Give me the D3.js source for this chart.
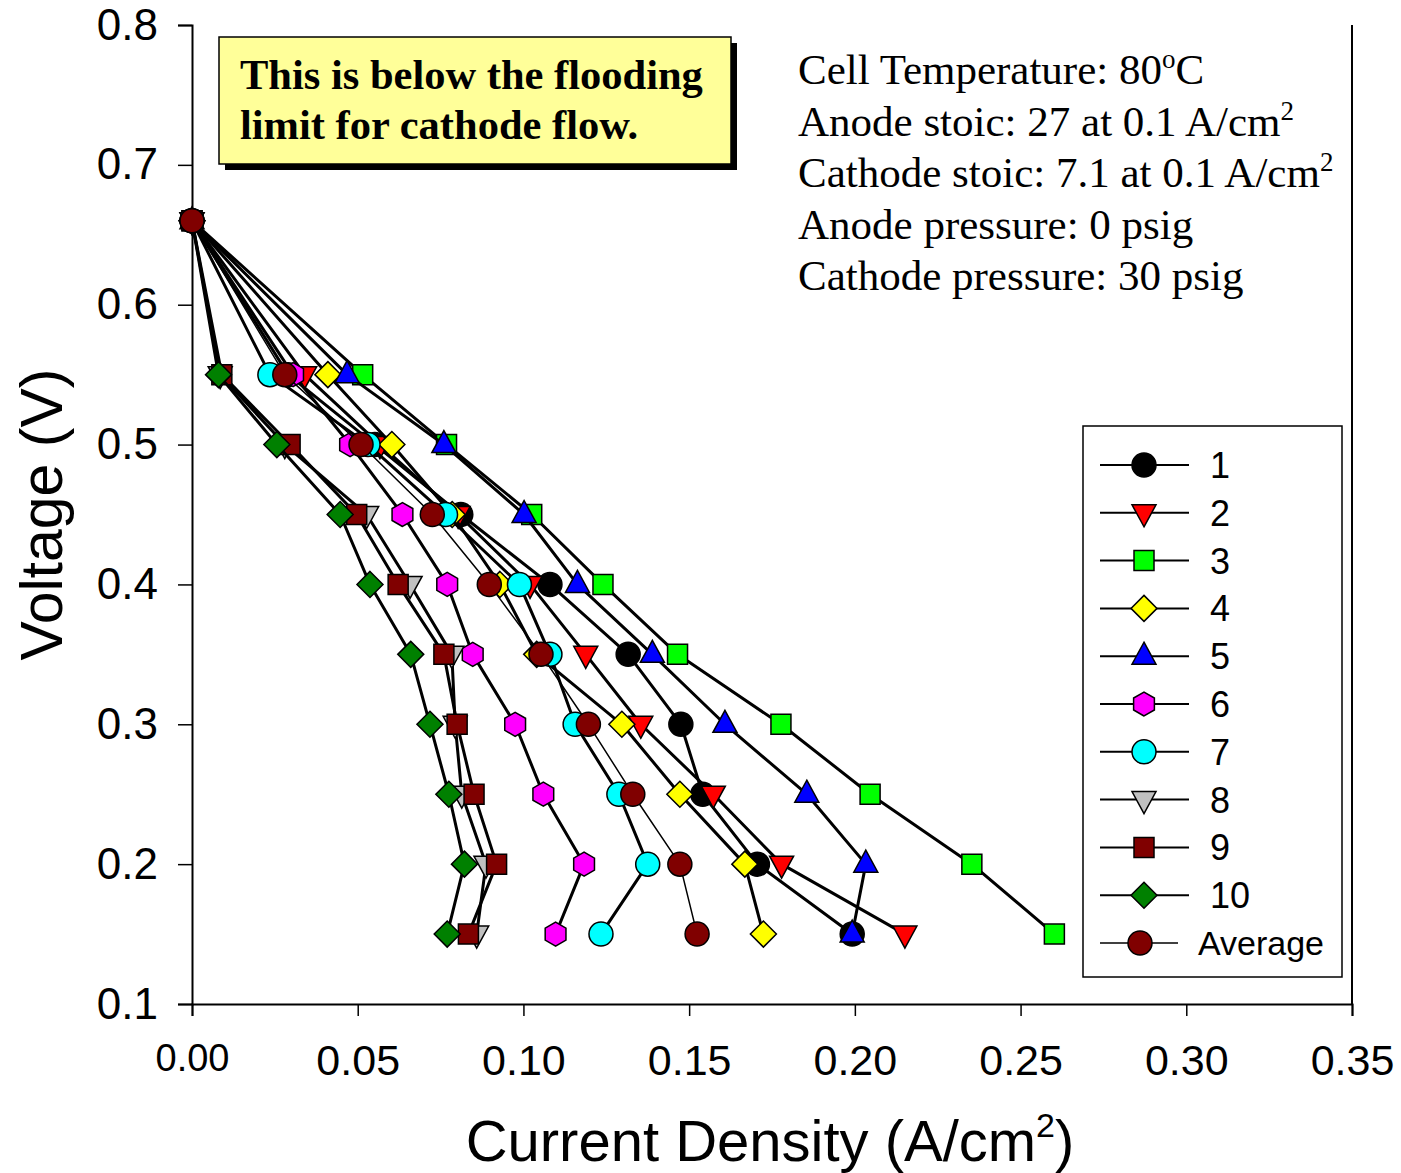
<!DOCTYPE html>
<html>
<head>
<meta charset="utf-8">
<script src="https://cdn.jsdelivr.net/npm/d3@7"></script>
<style>
  html, body { margin: 0; padding: 0; background: #fff; }
  svg { display: block; }
</style>
</head>
<body>
<div id="chart"></div>
<script>
// voltage steps shared by every run (V)
const voltage = [0.66, 0.55, 0.5, 0.45, 0.4, 0.35, 0.3, 0.25, 0.2, 0.15];

// current density per run (A/cm2)
const run1 = [0, 0.029, 0.0552, 0.0811, 0.108, 0.1316, 0.1475, 0.1541, 0.1706, 0.1992];
const run2 = [0, 0.034, 0.0567, 0.0803, 0.102, 0.1188, 0.1354, 0.1573, 0.1779, 0.2151];
const run3 = [0, 0.0515, 0.0768, 0.1025, 0.124, 0.1465, 0.1777, 0.2046, 0.2353, 0.2602];
const run4 = [0, 0.041, 0.0603, 0.0785, 0.0929, 0.104, 0.1297, 0.1472, 0.1668, 0.1724];
const run5 = [0, 0.0468, 0.076, 0.1002, 0.1163, 0.1389, 0.1608, 0.1855, 0.2033, 0.1992];
const run6 = [0, 0.0305, 0.0477, 0.0635, 0.077, 0.0847, 0.0975, 0.106, 0.1183, 0.1097];
const run7 = [0, 0.0235, 0.0531, 0.0765, 0.0988, 0.108, 0.1156, 0.1288, 0.1375, 0.1234];
const run8 = [0, 0.0085, 0.028, 0.0527, 0.0658, 0.0784, 0.0794, 0.0814, 0.0887, 0.0859];
const run9 = [0, 0.009, 0.0296, 0.0497, 0.0622, 0.076, 0.080, 0.0851, 0.0919, 0.0834];
const run10 = [0, 0.008, 0.0256, 0.0447, 0.0537, 0.066, 0.0718, 0.0775, 0.0822, 0.077];
const average = [0, 0.028, 0.051, 0.0725, 0.0897, 0.1053, 0.1196, 0.133, 0.1472, 0.1524];

const xTicks = [0, 0.05, 0.1, 0.15, 0.2, 0.25, 0.3, 0.35];
const yTicks = [0.1, 0.2, 0.3, 0.4, 0.5, 0.6, 0.7, 0.8];

const notes = [
  ["Cell Temperature: 80", "o", "C"],
  ["Anode stoic: 27 at 0.1 A/cm", "2", ""],
  ["Cathode stoic: 7.1 at 0.1 A/cm", "2", ""],
  ["Anode pressure: 0 psig", "", ""],
  ["Cathode pressure: 30 psig", "", ""],
];

const series = [
  { name: "1", values: run1, shape: "circle", color: "#000000" },
  { name: "2", values: run2, shape: "triDown", color: "#ff0000" },
  { name: "3", values: run3, shape: "square", color: "#00ff00" },
  { name: "4", values: run4, shape: "diamond", color: "#ffff00" },
  { name: "5", values: run5, shape: "triUp", color: "#0000ff" },
  { name: "6", values: run6, shape: "hexagon", color: "#ff00ff" },
  { name: "7", values: run7, shape: "circle", color: "#00ffff" },
  { name: "8", values: run8, shape: "triDown", color: "#c0c0c0" },
  { name: "9", values: run9, shape: "square", color: "#800000" },
  { name: "10", values: run10, shape: "diamond", color: "#008000" },
  { name: "Average", values: average, shape: "circle", color: "#800000", thin: true },
];

function shapePath(shape) {
  switch (shape) {
    case "circle": {
      const r = 12;
      return `M${-r},0A${r},${r} 0 1,0 ${r},0A${r},${r} 0 1,0 ${-r},0Z`;
    }
    case "square":
      return "M-10,-10H10V10H-10Z";
    case "diamond":
      return "M0,-13L13,0L0,13L-13,0Z";
    case "triUp":
      return "M0,-14L12,8H-12Z";
    case "triDown":
      return "M0,14L12,-8H-12Z";
    case "hexagon": {
      const r = 12;
      const pts = d3.range(6).map((i) => {
        const a = Math.PI / 2 + (i * Math.PI) / 3;
        return [r * Math.cos(a), r * Math.sin(a)];
      });
      return "M" + pts.map((p) => p.join(",")).join("L") + "Z";
    }
  }
}

const width = 1401;
const height = 1173;
const margin = { top: 25, right: 49, bottom: 169, left: 192 };

const svg = d3
  .select("#chart")
  .append("svg")
  .attr("width", width)
  .attr("height", height)
  .attr("viewBox", `0 0 ${width} ${height}`);

const x = d3.scaleLinear().domain([0, 0.35]).range([margin.left, width - margin.right]);
const y = d3.scaleLinear().domain([0.1, 0.8]).range([height - margin.bottom, margin.top]);

const sans = "'Liberation Sans', Arial, sans-serif";
const serif = "'Liberation Serif', 'Times New Roman', serif";

// axes
svg
  .append("g")
  .attr("transform", `translate(${margin.left},0)`)
  .call(d3.axisLeft(y).tickValues(yTicks).tickSize(14).tickPadding(20).tickFormat(d3.format(".1f")))
  .call((g) => g.select(".domain").attr("stroke-width", 2))
  .call((g) => g.selectAll(".tick line").attr("stroke-width", 1.5))
  .call((g) => g.selectAll(".tick text").attr("font-family", sans).attr("font-size", 44).attr("fill", "#000"));

svg
  .append("g")
  .attr("transform", `translate(0,${y(0.1)})`)
  .call(d3.axisBottom(x).tickValues(xTicks).tickSize(12).tickPadding(28).tickFormat(d3.format(".2f")))
  .call((g) => g.select(".domain").attr("stroke-width", 2))
  .call((g) => g.selectAll(".tick line").attr("stroke-width", 1.5))
  .call((g) =>
    g
      .selectAll(".tick text")
      .attr("font-family", sans)
      .attr("font-size", (d) => (d === 0 ? 38 : 43))
      .attr("fill", "#000")
  );

// right frame line
svg
  .append("line")
  .attr("x1", x(0.35))
  .attr("x2", x(0.35))
  .attr("y1", y(0.8))
  .attr("y2", y(0.1))
  .attr("stroke", "#000")
  .attr("stroke-width", 2);

// axis titles
svg
  .append("text")
  .attr("transform", `translate(62,${(y(0.8) + y(0.1)) / 2}) rotate(-90)`)
  .attr("text-anchor", "middle")
  .attr("font-family", sans)
  .attr("font-size", 59)
  .text("Voltage (V)");

const xTitle = svg
  .append("text")
  .attr("x", 770)
  .attr("y", 1161)
  .attr("text-anchor", "middle")
  .attr("font-family", sans)
  .attr("font-size", 58)
  .text("Current Density (A/cm");
xTitle.append("tspan").attr("dy", -24).attr("font-size", 34).text("2");
xTitle.append("tspan").attr("dy", 24).text(")");

// series
const line = d3
  .line()
  .x((d) => x(d[0]))
  .y((d) => y(d[1]));

series.forEach((s) => {
  const pts = s.values.map((v, i) => [v, voltage[i]]);
  svg
    .append("path")
    .attr("d", line(pts))
    .attr("fill", "none")
    .attr("stroke", "#000")
    .attr("stroke-width", s.thin ? 1.5 : 3)
    .attr("stroke-linejoin", "round");

  svg
    .append("g")
    .selectAll("path")
    .data(pts)
    .enter()
    .append("path")
    .attr("transform", (d) => `translate(${x(d[0])},${y(d[1])})`)
    .attr("d", shapePath(s.shape))
    .attr("fill", s.color)
    .attr("stroke", "#000")
    .attr("stroke-width", 1.5);
});

// yellow note box with shadow
const box = { x: 219, y: 37, w: 512, h: 127 };
svg
  .append("rect")
  .attr("x", box.x + 6)
  .attr("y", box.y + 6)
  .attr("width", box.w)
  .attr("height", box.h)
  .attr("fill", "#000");
svg
  .append("rect")
  .attr("x", box.x)
  .attr("y", box.y)
  .attr("width", box.w)
  .attr("height", box.h)
  .attr("fill", "#ffff99")
  .attr("stroke", "#000")
  .attr("stroke-width", 1.5);
["This is below the flooding", "limit for cathode flow."].forEach((t, i) => {
  svg
    .append("text")
    .attr("x", 240)
    .attr("y", 89 + i * 50)
    .attr("font-family", serif)
    .attr("font-weight", "bold")
    .attr("font-size", 42.5)
    .text(t);
});

// conditions text
notes.forEach((n, i) => {
  const t = svg
    .append("text")
    .attr("x", 798)
    .attr("y", 84 + i * 51.5)
    .attr("font-family", serif)
    .attr("font-size", 43)
    .text(n[0]);
  if (n[1]) {
    t.append("tspan").attr("dy", -16).attr("font-size", 27).text(n[1]);
    t.append("tspan").attr("dy", 16).text(n[2]);
  }
});

// legend
const legend = svg.append("g");
legend
  .append("rect")
  .attr("x", 1083)
  .attr("y", 426)
  .attr("width", 259)
  .attr("height", 551)
  .attr("fill", "#fff")
  .attr("stroke", "#000")
  .attr("stroke-width", 1.5);

series.forEach((s, i) => {
  const cy = 465 + i * 47.8;
  const g = legend.append("g");
  const x2 = s.thin ? 1178 : 1189;
  const mx = s.thin ? 1140 : 1144;
  g.append("line")
    .attr("x1", 1100)
    .attr("x2", x2)
    .attr("y1", cy)
    .attr("y2", cy)
    .attr("stroke", "#000")
    .attr("stroke-width", s.thin ? 1.5 : 2);
  g.append("path")
    .attr("transform", `translate(${mx},${cy})`)
    .attr("d", shapePath(s.shape))
    .attr("fill", s.color)
    .attr("stroke", "#000")
    .attr("stroke-width", 1.5);
  g.append("text")
    .attr("x", s.thin ? 1198 : 1210)
    .attr("y", cy)
    .attr("dy", "0.36em")
    .attr("font-family", sans)
    .attr("font-size", s.thin ? 34 : 36)
    .text(s.name);
});
</script>
</body>
</html>
